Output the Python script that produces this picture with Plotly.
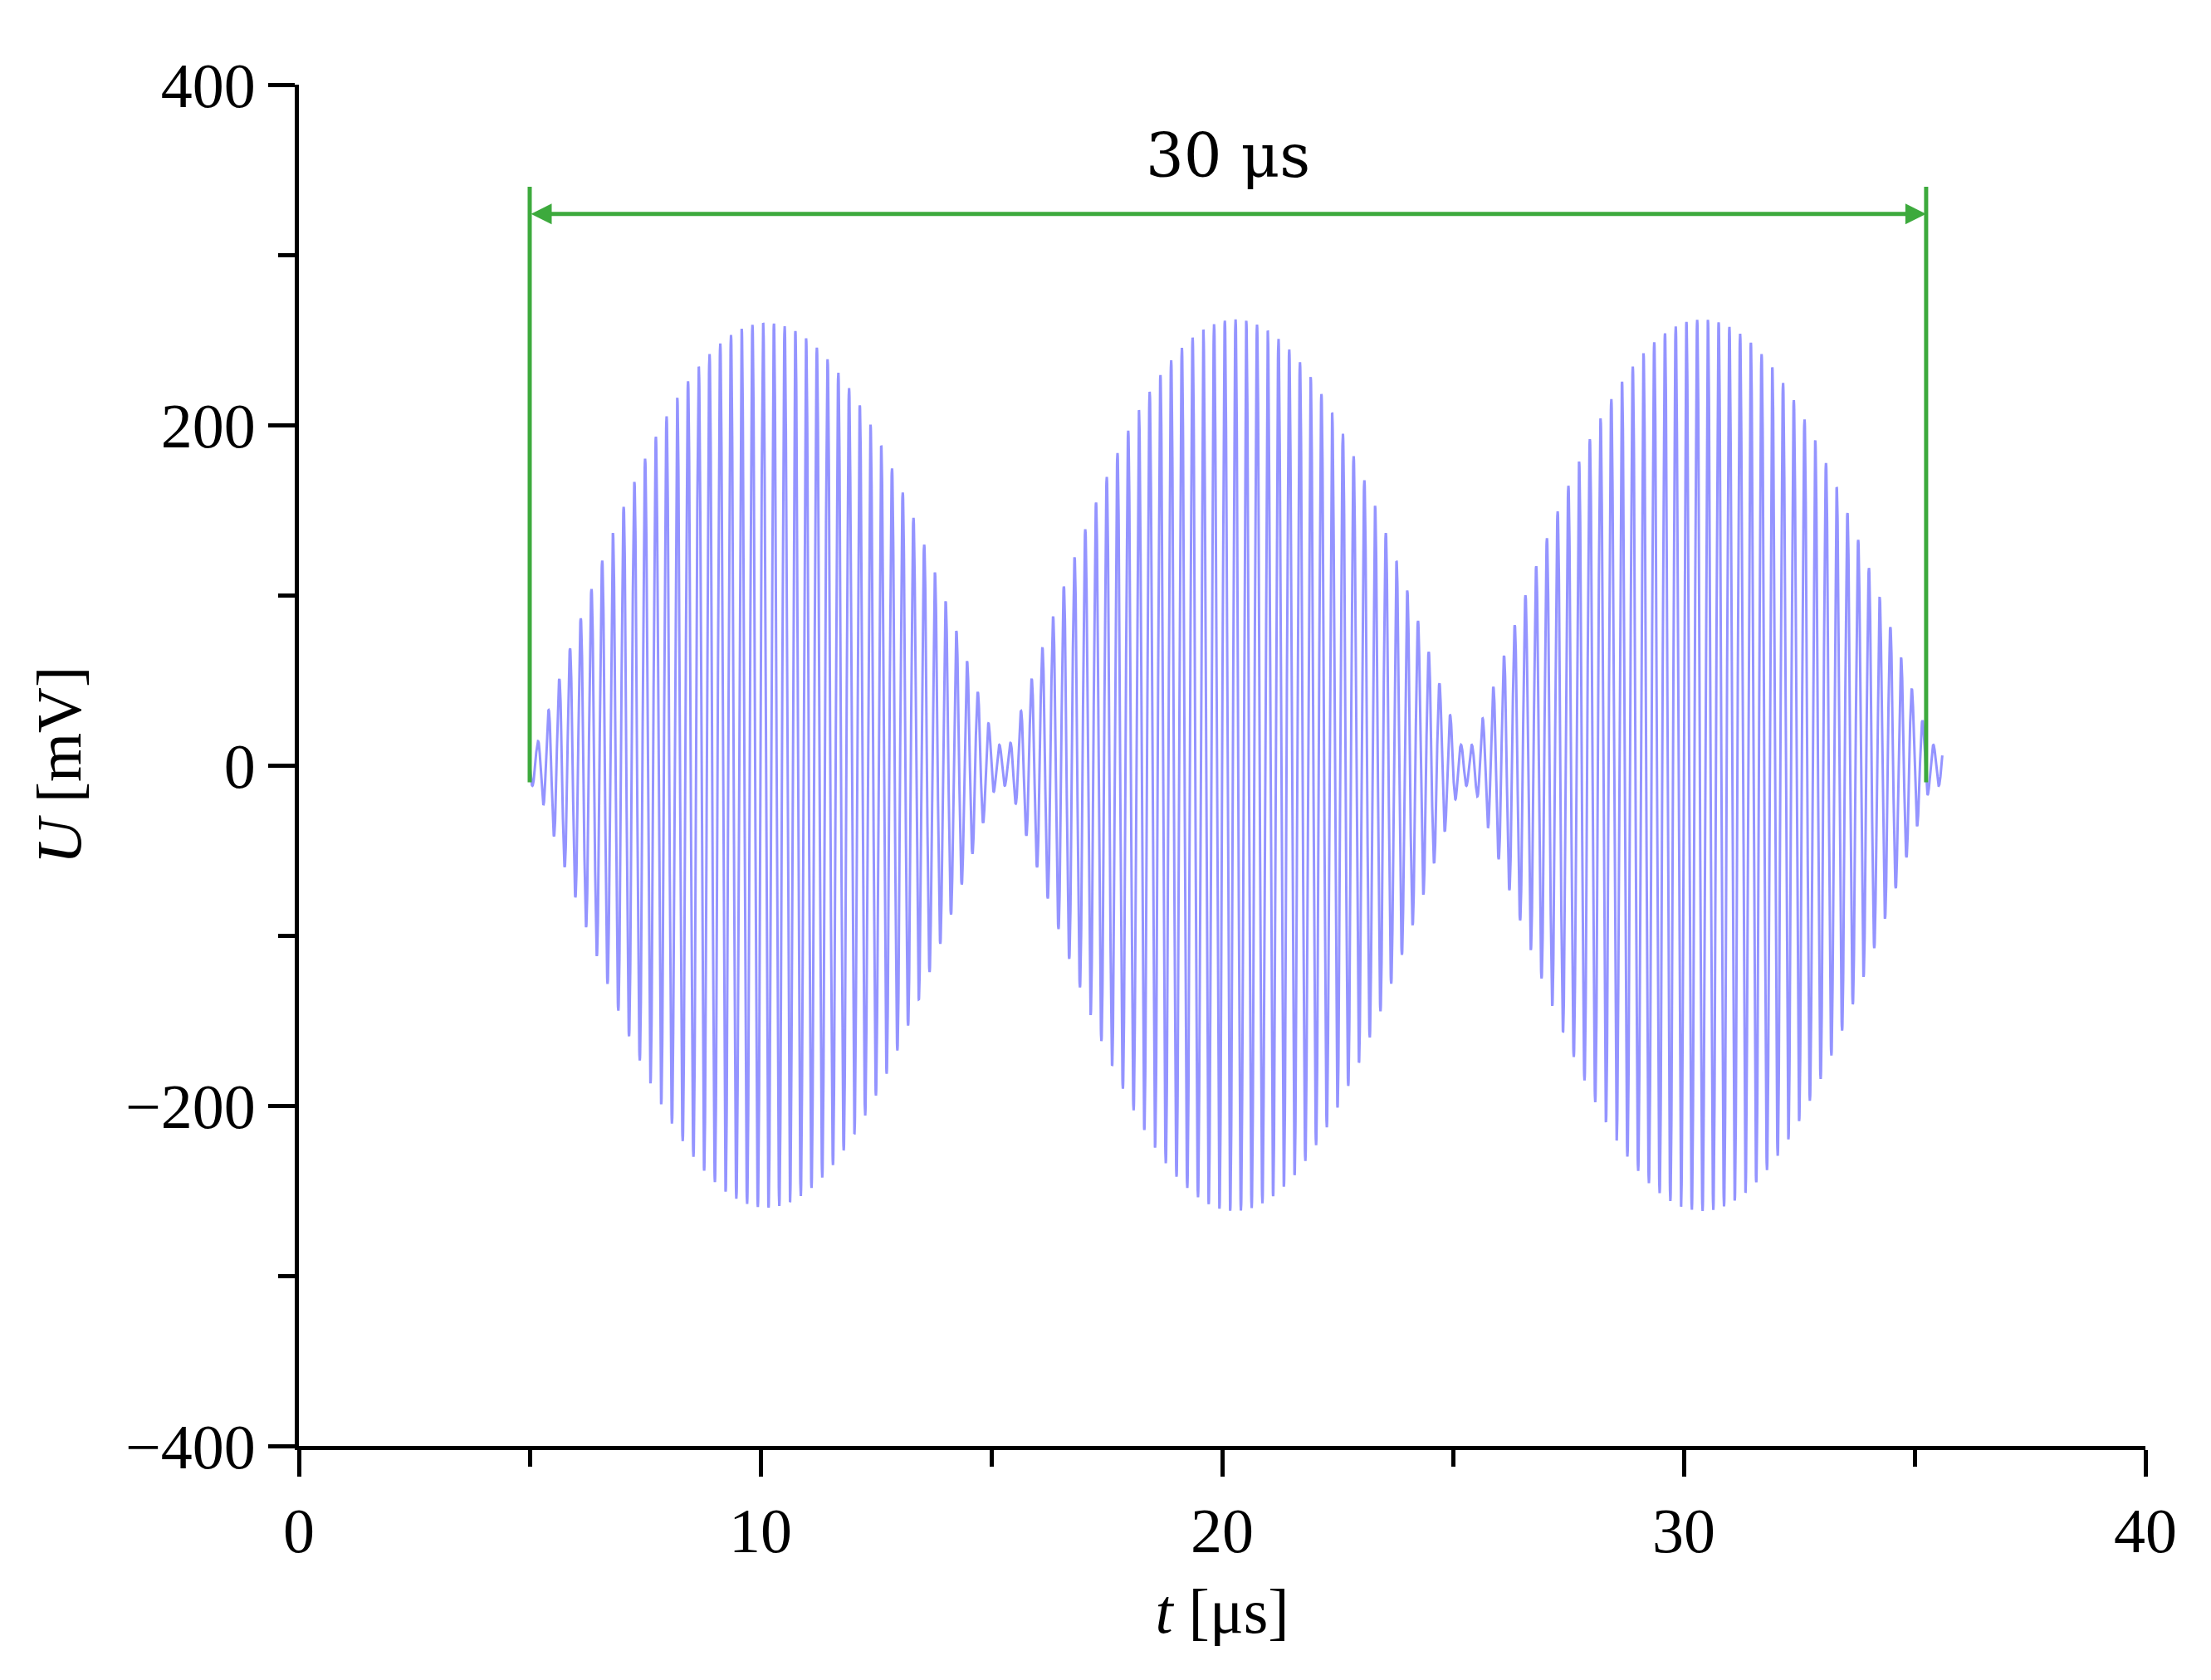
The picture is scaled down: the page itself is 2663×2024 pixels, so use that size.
import numpy as np
import plotly.graph_objects as go

# values
lobe_edges = [5.0, 15.25, 25.3, 35.5]      # μs, envelope nulls
lobe_peaks = [260, 262, 262]               # mV, envelope maxima
carrier_mhz = 4.3                          # carrier frequency read from spacing of peaks
residual_mv = 12                           # small ripple at nulls
x_ticks = [0, 10, 20, 30, 40]
y_ticks = [-400, -200, 0, 200, 400]
span_start, span_end = 5.0, 35.25
span_label = "30 μs"

t = np.linspace(lobe_edges[0], lobe_edges[-1] + 0.1, 12000)
env = np.zeros_like(t)
for a, b, p in zip(lobe_edges[:-1], lobe_edges[1:], lobe_peaks):
    m = (t >= a) & (t < b)
    env[m] = p * np.sin(np.pi * (t[m] - a) / (b - a))
env = np.maximum(env, residual_mv)
u = -env * np.sin(2 * np.pi * carrier_mhz * (t - lobe_edges[0]))

green = "#3daa3d"
fig = go.Figure()
fig.add_trace(go.Scatter(x=t, y=u, mode="lines",
                         line=dict(color="rgba(90,90,255,0.65)", width=3),
                         showlegend=False, hoverinfo="skip"))
for xv in (span_start, span_end):
    fig.add_trace(go.Scatter(x=[xv, xv], y=[-10, 340], mode="lines",
                             line=dict(color=green, width=5), showlegend=False))
fig.add_annotation(x=span_end, y=324, ax=span_start, ay=324, xref="x", yref="y",
                   axref="x", ayref="y", showarrow=True, arrowhead=2,
                   arrowside="end+start", arrowsize=1, arrowwidth=5,
                   arrowcolor=green, text="")
fig.add_annotation(x=(span_start + span_end) / 2, y=358, text=span_label,
                   showarrow=False, font=dict(size=72, color="black",
                                              family="DejaVu Serif"))

font = dict(family="Liberation Serif", size=76, color="black")
fig.update_layout(
    width=2663, height=2024, paper_bgcolor="white", plot_bgcolor="white",
    margin=dict(l=352, r=87, t=94, b=290),
    font=font,
    xaxis=dict(range=[0, 40], tickvals=x_ticks, showgrid=False, zeroline=False,
               showline=True, linecolor="black", linewidth=5,
               ticks="outside", ticklen=32, tickwidth=5, tickcolor="black",
               minor=dict(dtick=5, ticks="outside", ticklen=20, tickwidth=5,
                          tickcolor="black", showgrid=False),
               title=dict(text="<i>t</i> [μs]", standoff=30, font=font)),
    yaxis=dict(range=[-400, 400], tickvals=y_ticks,
               ticktext=["−400", "−200", "0", "200", "400"],
               showgrid=False, zeroline=False,
               showline=True, linecolor="black", linewidth=5,
               ticks="outside", ticklen=32, tickwidth=5, tickcolor="black",
               minor=dict(dtick=100, ticks="outside", ticklen=20, tickwidth=5,
                          tickcolor="black", showgrid=False),
               title=dict(text="<i>U</i> [mV]", standoff=30, font=font)),
)
fig.write_html("out.html")
